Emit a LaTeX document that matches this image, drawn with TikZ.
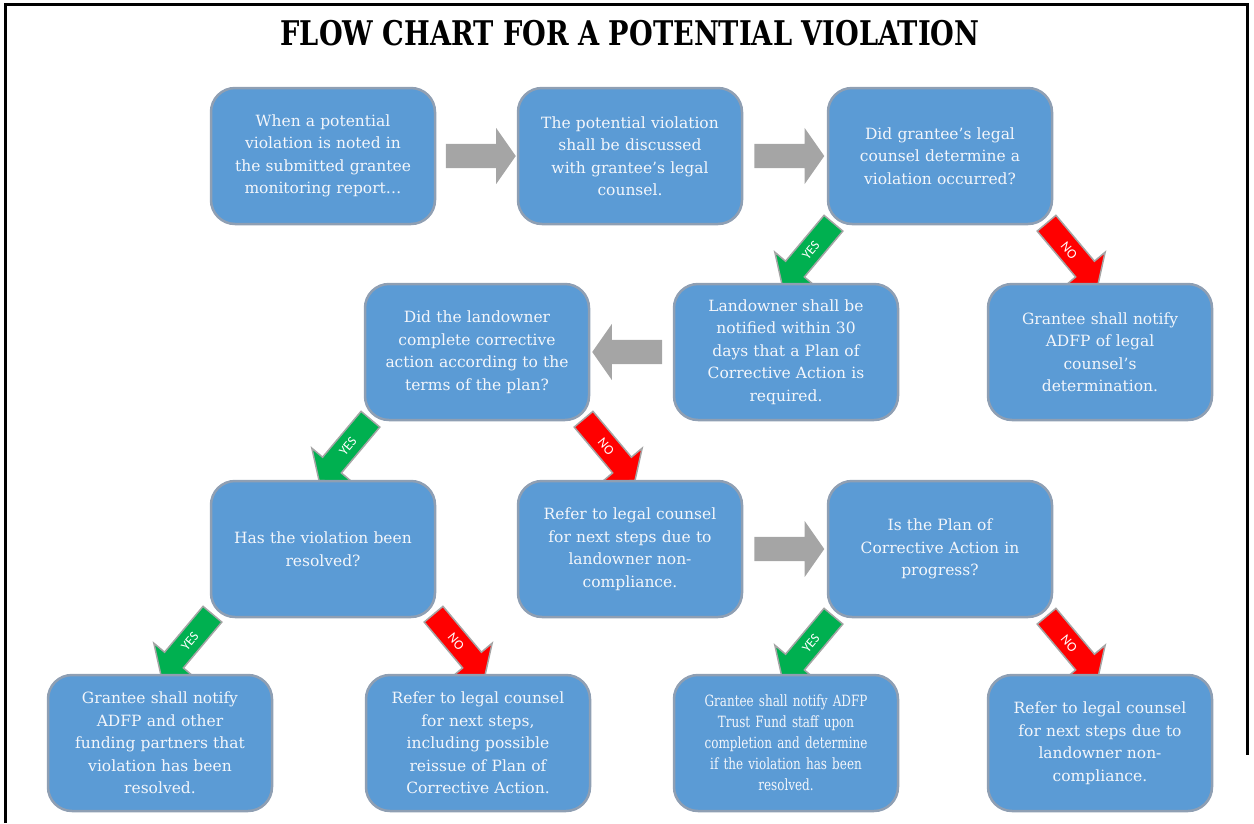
\documentclass[tikz,border=0pt]{standalone}
\usepackage{fontspec}
\setmainfont{DejaVu Serif}
\newfontfamily\condfont[FakeStretch=0.86]{DejaVu Serif Condensed}
\newfontfamily\titlefont[FakeStretch=0.89]{DejaVu Serif Condensed Bold}
\newfontfamily\labelfont{Carlito}
\usepackage{tikz}
\usetikzlibrary{shapes.arrows,calc,positioning,backgrounds}
\definecolor{boxblue}{HTML}{5B9BD5}
\definecolor{boxline}{HTML}{8F9FB3}
\definecolor{boxtext}{HTML}{F3F6FB}
\definecolor{arrowgray}{HTML}{A5A5A5}
\definecolor{yesgreen}{HTML}{00B050}
\definecolor{nored}{HTML}{FF0000}
\tikzset{
    flowbox/.style={draw=boxline,fill=boxblue,line width=2.5pt,rounded corners=24pt,
      minimum width=224pt,minimum height=136pt,text width=218pt,inner sep=0pt,
      align=center,text=boxtext,font=\fontsize{15.5}{22.5}\selectfont},
    steparrow/.style={single arrow,fill=arrowgray,draw=none,minimum height=70pt,
      inner xsep=0pt,inner ysep=12pt,single arrow head extend=16pt,
      single arrow tip angle=110,single arrow head indent=0pt},
    brancharrow/.style={single arrow,draw=arrowgray,line width=1.5pt,minimum height=80pt,
      text height=9pt,text depth=0pt,inner xsep=2pt,inner ysep=7pt,
      single arrow head extend=14pt,single arrow tip angle=105,
      text=white,font=\labelfont\fontsize{13.5}{13.5}\selectfont},
    yesarrow/.style={brancharrow,fill=yesgreen,shape border rotate=180,rotate=50},
    noarrow/.style={brancharrow,fill=nored,rotate=-50}
}
\begin{document}
\begin{tikzpicture}[x=1pt,y=-1pt]
  \useasboundingbox (0,0) rectangle (1254,823);
  % frame and title
  \draw[line width=3pt] (5,823) -- (5,4) -- (1247,4) -- (1247,755);
  \node[font=\titlefont\fontsize{34}{34}\selectfont] (title) at (630,33)
    {FLOW CHART FOR A POTENTIAL VIOLATION};

  % first row
  \node[flowbox] (noted) at (323,156)
    {When a potential\\violation is noted in\\the submitted grantee\\monitoring report\ldots};
  \node[flowbox] (discuss) at (630,156)
    {The potential violation\\shall be discussed\\with grantee’s legal\\counsel.};
  \node[flowbox] (occurred) at (940,156)
    {Did grantee’s legal\\counsel determine a\\violation occurred?};

  % second row
  \node[flowbox] (complete) at (477,352)
    {Did the landowner\\complete corrective\\action according to the\\terms of the plan?};
  \node[flowbox] (notify30) at (786,352)
    {Landowner shall be\\notified within 30\\days that a Plan of\\Corrective Action is\\required.};
  \node[flowbox] (tellADFP) at (1100,352)
    {Grantee shall notify\\ADFP of legal\\counsel’s\\determination.};

  % third row
  \node[flowbox] (resolved) at (323,549)
    {Has the violation been\\resolved?};
  \node[flowbox] (refer) at (630,549)
    {Refer to legal counsel\\for next steps due to\\landowner non-\\compliance.};
  \node[flowbox] (progress) at (940,549)
    {Is the Plan of\\Corrective Action in\\progress?};

  % last row
  \node[flowbox] (partners) at (160,743)
    {Grantee shall notify\\ADFP and other\\funding partners that\\violation has been\\resolved.};
  \node[flowbox] (reissue) at (478,743)
    {Refer to legal counsel\\for next steps,\\including possible\\reissue of Plan of\\Corrective Action.};
  \node[flowbox,font=\condfont\fontsize{15.5}{21}\selectfont] (trustfund) at (786,743)
    {Grantee shall notify ADFP\\Trust Fund staff upon\\completion and determine\\if the violation has been\\resolved.};
  \node[flowbox] (noncomply) at (1100,743)
    {Refer to legal counsel\\for next steps due to\\landowner non-\\compliance.};

  \begin{scope}[on background layer]
    % gray block arrows
    \node[steparrow] (n2d) at ($(noted.east)!0.5!(discuss.west)$) {};
    \node[steparrow] (d2o) at ($(discuss.east)!0.5!(occurred.west)$) {};
    \node[steparrow,shape border rotate=180] (n2c) at ($(notify30.west)!0.5!(complete.east)$) {};
    \node[steparrow] (r2p) at ($(refer.east)!0.5!(progress.west)$) {};
    % yes / no arrows
    \node[yesarrow] (yes1) at ($(occurred.south west)+(-16,25)$) {YES};
    \node[noarrow] (no1) at ($(occurred.south east)+(16,25)$) {NO};
    \node[yesarrow] (yes2) at ($(complete.south west)+(-16,25)$) {YES};
    \node[noarrow] (no2) at ($(complete.south east)+(16,25)$) {NO};
    \node[yesarrow] (yes3) at ($(resolved.south west)+(-20,23)$) {YES};
    \node[noarrow] (no3) at ($(resolved.south east)+(20,23)$) {NO};
    \node[yesarrow] (yes4) at ($(progress.south west)+(-16,25)$) {YES};
    \node[noarrow] (no4) at ($(progress.south east)+(16,25)$) {NO};
  \end{scope}
\end{tikzpicture}
\end{document}
